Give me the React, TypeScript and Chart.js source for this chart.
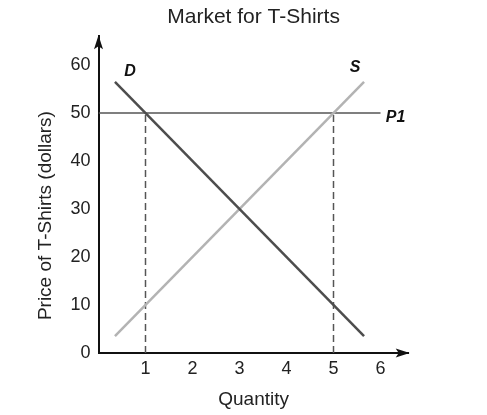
import { useEffect, useRef } from 'react';
import { Chart, registerables } from 'chart.js';

Chart.register(...registerables);

const chartTitle = 'Market for T-Shirts';
const xTitle = 'Quantity';
const yTitle = 'Price of T-Shirts (dollars)';

const xTicks = [1, 2, 3, 4, 5, 6];
const yTicks = [0, 10, 20, 30, 40, 50, 60];
const xMax = 6.6;
const yMax = 66;

const demandQ = [0.35, 5.65];
const demandP = [56.5, 3.5];
const supplyQ = [0.35, 5.65];
const supplyP = [3.5, 56.5];
const priceQ = [0, 6];
const priceP = [50, 50];
const guideQ = [1, 5];
const guideP = [0, 50];

const curveLabels = ['D', 'S', 'P1'];
const labelQ = [0.67, 5.46, 6.32];
const labelP = [58.6, 59.4, 49.1];

const FONT = '"Liberation Sans", Arial, Helvetica, sans-serif';

const pts = (xs: number[], ys: number[]) => xs.map((x, i) => ({ x, y: ys[i] }));

const decor = {
  id: 'decor',
  afterDraw(chart: any) {
    const { ctx, chartArea: a, scales } = chart;
    const x = scales.x;
    const y = scales.y;
    ctx.save();
    ctx.fillStyle = '#111';
    // y-axis arrow
    ctx.beginPath();
    ctx.moveTo(a.left, a.top - 1);
    ctx.lineTo(a.left + 4.5, a.top + 13);
    ctx.lineTo(a.left, a.top + 10);
    ctx.lineTo(a.left - 4.5, a.top + 13);
    ctx.closePath();
    ctx.fill();
    // x-axis arrow
    ctx.beginPath();
    ctx.moveTo(a.right + 1, a.bottom);
    ctx.lineTo(a.right - 13, a.bottom - 4.5);
    ctx.lineTo(a.right - 10, a.bottom);
    ctx.lineTo(a.right - 13, a.bottom + 4.5);
    ctx.closePath();
    ctx.fill();

    // y-axis title
    ctx.save();
    ctx.font = `19px ${FONT}`;
    ctx.fillStyle = '#222';
    ctx.textAlign = 'center';
    ctx.textBaseline = 'middle';
    ctx.translate(a.left - 53, (a.top + a.bottom) / 2 + 21);
    ctx.rotate(-Math.PI / 2);
    ctx.fillText(yTitle, 0, 0);
    ctx.restore();

    // curve labels
    ctx.font = `italic bold 16px ${FONT}`;
    ctx.fillStyle = '#111';
    ctx.textAlign = 'center';
    ctx.textBaseline = 'middle';
    curveLabels.forEach((t, i) => {
      ctx.fillText(t, x.getPixelForValue(labelQ[i]), y.getPixelForValue(labelP[i]));
    });
    ctx.restore();
  },
};

export default function App() {
  const ref = useRef<HTMLCanvasElement | null>(null);

  useEffect(() => {
    if (!ref.current) return;
    const guideSets = guideQ.map((q) => ({
      label: `guide ${q}`,
      data: pts([q, q], guideP),
      showLine: true,
      borderColor: '#555',
      borderWidth: 1.5,
      borderDash: [7, 4],
      pointRadius: 0,
    }));
    const chart = new Chart(ref.current, {
      type: 'scatter',
      data: {
        datasets: [
          {
            label: 'D',
            data: pts(demandQ, demandP),
            showLine: true,
            borderColor: '#4d4d4d',
            borderWidth: 2.5,
            pointRadius: 0,
          },
          {
            label: 'S',
            data: pts(supplyQ, supplyP),
            showLine: true,
            borderColor: '#b3b3b3',
            borderWidth: 2.5,
            pointRadius: 0,
          },
          {
            label: 'P1',
            data: pts(priceQ, priceP),
            showLine: true,
            borderColor: '#555',
            borderWidth: 1.5,
            pointRadius: 0,
          },
          ...guideSets,
        ],
      },
      options: {
        responsive: false,
        animation: false,
        devicePixelRatio: 1,
        layout: { padding: { left: 0, top: 0, bottom: 0, right: 78.3 } },
        plugins: {
          legend: { display: false },
          tooltip: { enabled: false },
          title: {
            display: true,
            text: chartTitle,
            fullSize: false,
            color: '#222',
            font: { family: FONT, size: 21, weight: 'normal' },
            padding: { top: 5, bottom: 6 },
          },
        },
        scales: {
          x: {
            type: 'linear',
            min: 0,
            max: xMax,
            grid: { display: false, drawTicks: false },
            border: { display: true, color: '#111', width: 2 },
            ticks: {
              color: '#222',
              font: { family: FONT, size: 18 },
              padding: 5,
              maxRotation: 0,
              autoSkip: false,
            },
            afterBuildTicks: (s: any) => {
              s.ticks = xTicks.map((v) => ({ value: v }));
            },
            afterFit: (s: any) => {
              s.height = 62;
            },
            title: {
              display: true,
              text: xTitle,
              color: '#222',
              font: { family: FONT, size: 19 },
              padding: { top: 0, bottom: 4 },
            },
          },
          y: {
            type: 'linear',
            min: 0,
            max: yMax,
            grid: { display: false, drawTicks: false },
            border: { display: true, color: '#111', width: 2 },
            ticks: {
              color: '#222',
              font: { family: FONT, size: 18 },
              padding: 8,
              autoSkip: false,
            },
            afterBuildTicks: (s: any) => {
              s.ticks = yTicks.map((v) => ({ value: v }));
            },
            afterFit: (s: any) => {
              s.width = 98.5;
            },
          },
        },
      } as any,
      plugins: [decor],
    });
    return () => chart.destroy();
  }, []);

  return (
    <div style={{ position: 'absolute', left: 0, top: 0, width: 487, height: 415, background: '#fff' }}>
      <canvas ref={ref} width={487} height={415} />
    </div>
  );
}
